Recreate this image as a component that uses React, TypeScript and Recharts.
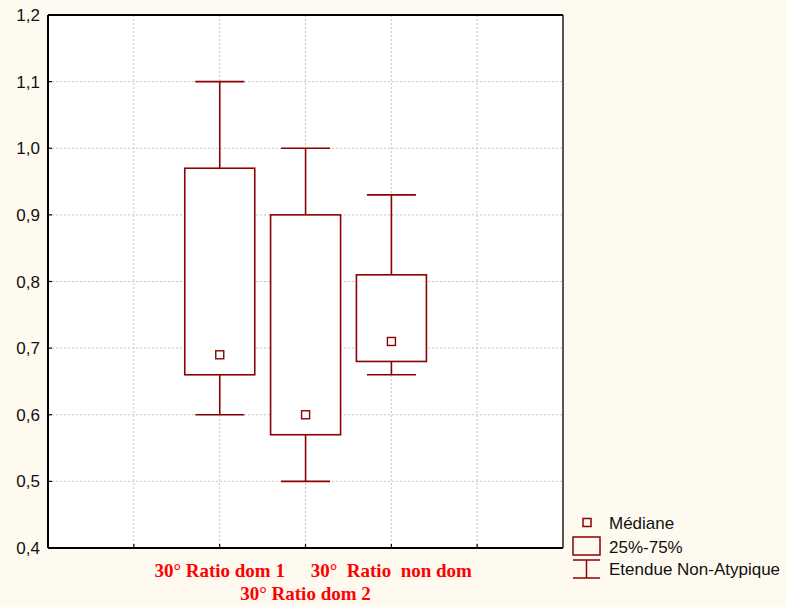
import React from 'react';
import { ComposedChart, Bar, XAxis, YAxis, CartesianGrid, ReferenceLine } from 'recharts';

const categories = ['30° Ratio dom 1', '30° Ratio dom 2', '30°  Ratio  non dom'];
const positions = [2, 3, 4];
const labelRows = [0, 1, 0];
const minValues = [0.6, 0.5, 0.66];
const q1Values = [0.66, 0.57, 0.68];
const medianValues = [0.69, 0.6, 0.71];
const q3Values = [0.97, 0.9, 0.81];
const maxValues = [1.1, 1.0, 0.93];

const yTicks = [0.4, 0.5, 0.6, 0.7, 0.8, 0.9, 1.0, 1.1, 1.2];
const xTicks = [1, 2, 3, 4, 5];

const legendItems = ['Médiane', '25%-75%', 'Etendue Non-Atypique'];

const BOX_COLOR = '#8B0000';
const BG = '#FEFAF0';

const rows = categories.map((name, i) => ({
  name,
  pos: positions[i],
  row: labelRows[i],
  min: minValues[i],
  q1: q1Values[i],
  median: medianValues[i],
  q3: q3Values[i],
  max: maxValues[i],
  range: [minValues[i], maxValues[i]],
}));

// whole box plot drawn inside the [min, max] range bar
const BoxShape = (props: any) => {
  const { x, y, width, height, payload } = props;
  const top = Math.min(y, y + height);
  const bottom = Math.max(y, y + height);
  const span = payload.max - payload.min;
  const py = (v: number) => top + ((payload.max - v) / span) * (bottom - top);
  const cx = x + width / 2;
  const capHalf = 24.5;
  const q3y = py(payload.q3);
  const q1y = py(payload.q1);
  const my = py(payload.median);
  return (
    <g stroke={BOX_COLOR} strokeWidth={1.6} fill="none">
      <line x1={cx} x2={cx} y1={top} y2={q3y} />
      <line x1={cx} x2={cx} y1={q1y} y2={bottom} />
      <line x1={cx - capHalf} x2={cx + capHalf} y1={top} y2={top} />
      <line x1={cx - capHalf} x2={cx + capHalf} y1={bottom} y2={bottom} />
      <rect x={x} y={q3y} width={width} height={q1y - q3y} fill="#fff" />
      <rect x={cx - 4} y={my - 4} width={8} height={8} fill="#fff" strokeWidth={1.4} />
    </g>
  );
};

const YTick = ({ x, y, payload }: any) => (
  <g>
    <line x1={x} x2={x + 4} y1={y} y2={y} stroke="#000" strokeWidth={1.2} />
    <text x={x - 8} y={y} dy={6} textAnchor="end" fontFamily="Liberation Sans, Arial, sans-serif" fontSize={17} fill="#111">
      {payload.value.toFixed(1).replace('.', ',')}
    </text>
  </g>
);

const XTick = ({ x, y, payload }: any) => {
  const entry = rows.find(r => r.pos === payload.value);
  return (
    <g>
      <line x1={x} x2={x} y1={y} y2={y - 4} stroke="#000" strokeWidth={1.2} />
      {entry && (
        <text
          x={x}
          y={y + (entry.row === 0 ? 29 : 52)}
          textAnchor="middle"
          fontFamily="Liberation Serif, Times New Roman, serif"
          fontWeight="bold"
          fontSize={19}
          fill="#FF0000"
          style={{ whiteSpace: 'pre' }}
        >
          {entry.name}
        </text>
      )}
    </g>
  );
};

const LegendBox = () => (
  <svg width={222} height={80} style={{ position: 'absolute', left: 565, top: 510 }}>
    <g stroke={BOX_COLOR} strokeWidth={1.5} fill="none">
      <rect x={18} y={8.5} width={8} height={8} />
      <rect x={8} y={27} width={27} height={18} />
      <line x1={8} x2={35} y1={50} y2={50} />
      <line x1={21.5} x2={21.5} y1={50} y2={68} />
      <line x1={8} x2={35} y1={68} y2={68} />
    </g>
    <g fontFamily="Liberation Sans, Arial, sans-serif" fontSize={17} fill="#111">
      {legendItems.map((t, i) => (
        <text key={t} x={44} y={[19, 43, 65][i]}>{t}</text>
      ))}
    </g>
  </svg>
);

export default function App() {
  return (
    <div style={{ position: 'absolute', left: 0, top: 0, width: 787, height: 607, background: BG }}>
      <ComposedChart width={787} height={607} data={rows} margin={{ top: 15, right: 224, bottom: 0, left: 8 }}>
        <CartesianGrid fill="#fff" stroke="#c4c4c4" strokeDasharray="2 2" />
        <XAxis
          dataKey="pos"
          type="number"
          domain={[0, 6]}
          ticks={xTicks}
          height={59}
          tickSize={0}
          tickMargin={0}
          tick={<XTick />}
          axisLine={{ stroke: '#000', strokeWidth: 2 }}
          interval={0}
        />
        <YAxis
          type="number"
          domain={[0.4, 1.2]}
          ticks={yTicks}
          width={40}
          tickSize={0}
          tickMargin={0}
          tick={<YTick />}
          axisLine={{ stroke: '#000', strokeWidth: 2 }}
          interval={0}
        />
        <ReferenceLine y={1.2} stroke="#000" strokeWidth={2} />
        <ReferenceLine x={6} stroke="#222" strokeWidth={1.5} />
        <Bar dataKey="range" barSize={70} shape={<BoxShape />} isAnimationActive={false} />
      </ComposedChart>
      <LegendBox />
    </div>
  );
}
